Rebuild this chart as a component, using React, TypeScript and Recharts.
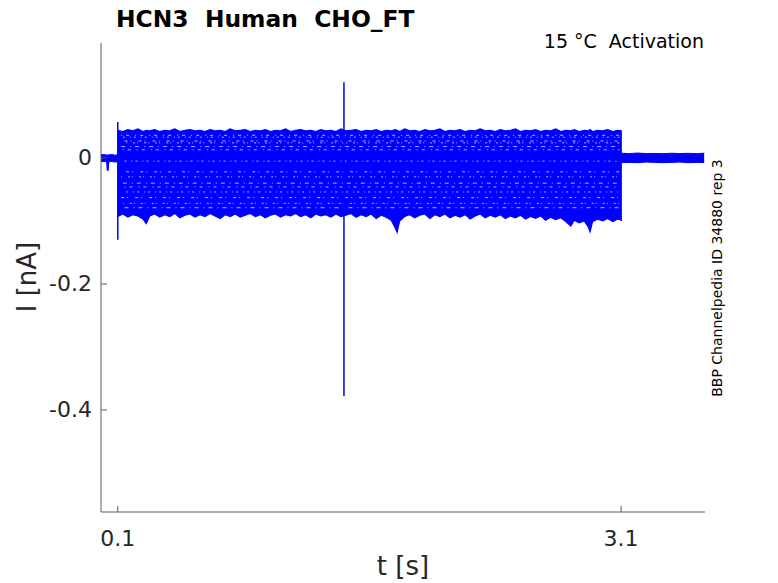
import { ComposedChart, Area, Line, XAxis, YAxis } from "recharts";

const BLUE = "#0000ff";
const AXIS = "#5a5a5a";
const TEXT = "#262626";
const FONT = "DejaVu Sans, sans-serif";

// time axis [s]
const xTicks = [0.1, 3.1];
const yTicks = [-0.4, -0.2, 0];

// holding level before the step (t, lo, hi) in nA
const preT = [0, 0.02, 0.035, 0.05, 0.065, 0.08, 0.1];
const preLo = [-0.006, -0.0055, -0.0065, -0.006, -0.0055, -0.0065, -0.006];
const preHi = [0.005, 0.0055, 0.0045, 0.005, 0.0055, 0.0045, 0.005];

// envelope of all sweeps during the 3 s test pulse
const stepT = [
  0.1, 0.13, 0.16, 0.19, 0.22, 0.25, 0.27, 0.29, 0.32, 0.35,
  0.38, 0.41, 0.44, 0.47, 0.5, 0.53, 0.56, 0.59, 0.62, 0.65,
  0.68, 0.71, 0.74, 0.77, 0.8, 0.83, 0.86, 0.89, 0.92, 0.95,
  0.98, 1.01, 1.04, 1.07, 1.1, 1.13, 1.16, 1.19, 1.22, 1.25,
  1.28, 1.31, 1.34, 1.37, 1.4, 1.43, 1.46, 1.49, 1.52, 1.55,
  1.58, 1.61, 1.64, 1.67, 1.7, 1.73, 1.755, 1.765, 1.78, 1.81,
  1.84, 1.87, 1.9, 1.93, 1.96, 1.99, 2.02, 2.05, 2.08, 2.11,
  2.14, 2.17, 2.2, 2.23, 2.26, 2.29, 2.32, 2.35, 2.38, 2.41,
  2.44, 2.47, 2.5, 2.53, 2.56, 2.59, 2.62, 2.65, 2.68, 2.71,
  2.74, 2.77, 2.8, 2.82, 2.85, 2.88, 2.905, 2.915, 2.93, 2.96,
  2.99, 3.02, 3.05, 3.08, 3.1,
];
const stepLo = [
  -0.093, -0.089, -0.094, -0.09, -0.092, -0.097, -0.104, -0.092, -0.089, -0.094,
  -0.09, -0.093, -0.088, -0.095, -0.091, -0.089, -0.094, -0.09, -0.093, -0.088,
  -0.092, -0.096, -0.09, -0.093, -0.089, -0.094, -0.091, -0.088, -0.093, -0.09,
  -0.095, -0.091, -0.089, -0.094, -0.09, -0.092, -0.088, -0.093, -0.09, -0.095,
  -0.089, -0.092, -0.09, -0.094, -0.089, -0.093, -0.091, -0.088, -0.094, -0.09,
  -0.093, -0.089, -0.096, -0.091, -0.094, -0.099, -0.112, -0.118, -0.1, -0.093,
  -0.09, -0.095, -0.091, -0.089, -0.096, -0.09, -0.093, -0.089, -0.095, -0.091,
  -0.094, -0.09, -0.097, -0.092, -0.089, -0.095, -0.091, -0.094, -0.09, -0.096,
  -0.092, -0.095, -0.091, -0.097, -0.093, -0.096, -0.092, -0.099, -0.094, -0.098,
  -0.095, -0.101, -0.108, -0.099, -0.103, -0.1, -0.11, -0.117, -0.101, -0.097,
  -0.1, -0.096, -0.101, -0.097, -0.098,
];
const stepHi = [
  0.044, 0.042, 0.045, 0.043, 0.046, 0.042, 0.044, 0.043, 0.045, 0.042,
  0.044, 0.043, 0.046, 0.042, 0.044, 0.045, 0.043, 0.044, 0.042, 0.045,
  0.043, 0.044, 0.042, 0.046, 0.043, 0.044, 0.045, 0.042, 0.044, 0.043,
  0.045, 0.042, 0.044, 0.043, 0.046, 0.042, 0.044, 0.045, 0.043, 0.044,
  0.042, 0.045, 0.043, 0.044, 0.042, 0.046, 0.043, 0.044, 0.045, 0.042,
  0.044, 0.043, 0.045, 0.042, 0.044, 0.043, 0.045, 0.044, 0.042, 0.046,
  0.043, 0.044, 0.042, 0.045, 0.043, 0.044, 0.046, 0.042, 0.044, 0.043,
  0.045, 0.042, 0.044, 0.043, 0.046, 0.043, 0.044, 0.042, 0.045, 0.043,
  0.044, 0.046, 0.042, 0.044, 0.043, 0.045, 0.042, 0.044, 0.043, 0.046,
  0.042, 0.044, 0.043, 0.045, 0.042, 0.044, 0.043, 0.045, 0.042, 0.044,
  0.043, 0.045, 0.042, 0.044, 0.043,
];

// tail after the step
const postT = [3.1, 3.15, 3.2, 3.25, 3.3, 3.35, 3.4, 3.45, 3.5, 3.55, 3.595];
const postLo = [-0.0075, -0.007, -0.0075, -0.0065, -0.007, -0.0075, -0.007, -0.0065, -0.0075, -0.007, -0.0072];
const postHi = [0.0075, 0.007, 0.0078, 0.007, 0.0072, 0.0068, 0.0075, 0.007, 0.0074, 0.0068, 0.0076];

// gaps between sweeps (levels where the band thins out)
const gapLevels = [0.036, 0.033, 0.027, 0.024, 0.018, 0.013, -0.005, -0.022, -0.03, -0.04, -0.046, -0.054, -0.063, -0.072, -0.079];

// capacitive transients and the stray artefact
const onsetT = [0.1, 0.1];
const onsetV = [0.057, -0.13];
const offsetT = [3.1, 3.1];
const offsetV = [0.044, -0.1];
const artT = [1.448, 1.448];
const artV = [0.12, -0.378];
const dipT = [0.036, 0.04, 0.044];
const dipV = [-0.004, -0.02, -0.004];

const band = (ts: number[], lo: number[], hi: number[]) =>
  ts.map((t, i) => ({ t, range: [lo[i], hi[i]] }));
const pts = (ts: number[], vs: number[]) => ts.map((t, i) => ({ t, v: vs[i] }));

const preData = band(preT, preLo, preHi);
const stepData = band(stepT, stepLo, stepHi);
const postData = band(postT, postLo, postHi);

const dashes = ["1 4 3 6", "2 5 1 3", "3 3 1 7", "1 6 2 2", "4 5 1 4"];

function YTick(p: any) {
  const v = p.payload.value;
  return (
    <g>
      <line x1={p.x} x2={p.x + 6} y1={p.y} y2={p.y} stroke={AXIS} />
      <text x={p.x - 9} y={p.y} textAnchor="end" dominantBaseline="central" fill={TEXT} fontSize={22} fontFamily={FONT}>
        {v === 0 ? "0" : v.toFixed(1)}
      </text>
    </g>
  );
}

function XTick(p: any) {
  return (
    <g>
      <line x1={p.x} x2={p.x} y1={p.y} y2={p.y - 6} stroke={AXIS} />
      <text x={p.x} y={p.y + 34} textAnchor="middle" fill={TEXT} fontSize={22} fontFamily={FONT}>
        {p.payload.value.toFixed(1)}
      </text>
    </g>
  );
}

export default function App() {
  return (
    <div style={{ position: "absolute", left: 0, top: 0, width: 778, height: 583, background: "#fff" }}>
      <ComposedChart width={778} height={583} margin={{ top: 43, right: 73, bottom: 0, left: 0 }}>
        <XAxis
          dataKey="t"
          type="number"
          domain={[0, 3.6]}
          ticks={xTicks}
          allowDataOverflow
          height={71}
          stroke={AXIS}
          tickLine={false}
          tickSize={0}
          tickMargin={0}
          tick={<XTick />}
        />
        <YAxis
          type="number"
          domain={[-0.562, 0.1825]}
          ticks={yTicks}
          allowDataOverflow
          width={101}
          stroke={AXIS}
          tickLine={false}
          tickSize={0}
          tickMargin={0}
          tick={<YTick />}
        />
        <Area data={preData} dataKey="range" type="linear" stroke={BLUE} strokeWidth={1} fill={BLUE} fillOpacity={1} isAnimationActive={false} />
        <Area data={stepData} dataKey="range" type="linear" stroke={BLUE} strokeWidth={1.2} fill={BLUE} fillOpacity={1} isAnimationActive={false} />
        <Area data={postData} dataKey="range" type="linear" stroke={BLUE} strokeWidth={1} fill={BLUE} fillOpacity={1} isAnimationActive={false} />
        {gapLevels.map((lv, i) => (
          <Line
            key={i}
            data={pts([0.12 + (i % 4) * 0.01, 3.09], [lv, lv])}
            dataKey="v"
            stroke="#ffffff"
            strokeWidth={1}
            strokeOpacity={0.7}
            strokeDasharray={dashes[i % dashes.length]}
            dot={false}
            isAnimationActive={false}
          />
        ))}
        <Line data={pts(dipT, dipV)} dataKey="v" stroke={BLUE} strokeWidth={2} dot={false} isAnimationActive={false} />
        <Line data={pts(onsetT, onsetV)} dataKey="v" stroke={BLUE} strokeWidth={1.5} dot={false} isAnimationActive={false} />
        <Line data={pts(offsetT, offsetV)} dataKey="v" stroke={BLUE} strokeWidth={1.5} dot={false} isAnimationActive={false} />
        <Line data={pts(artT, artV)} dataKey="v" stroke={BLUE} strokeWidth={1.5} dot={false} isAnimationActive={false} />
        <text x={116} y={27} fontSize={23.4} fontWeight="bold" fill="#000" fontFamily={FONT} style={{ whiteSpace: "pre" }}>
          HCN3  Human  CHO_FT
        </text>
        <text x={704} y={48} fontSize={19} textAnchor="end" fill="#000" fontFamily={FONT} style={{ whiteSpace: "pre" }}>
          15 °C  Activation
        </text>
        <text x={403} y={575} fontSize={26} textAnchor="middle" fill={TEXT} fontFamily={FONT}>
          t [s]
        </text>
        <text x={36} y={277} fontSize={26} textAnchor="middle" fill={TEXT} fontFamily={FONT} transform="rotate(-90 36 277)">
          I [nA]
        </text>
        <text x={722} y={278} fontSize={14} textAnchor="middle" fill="#000" fontFamily={FONT} transform="rotate(-90 722 278)">
          BBP Channelpedia ID 34880 rep 3
        </text>
      </ComposedChart>
    </div>
  );
}
